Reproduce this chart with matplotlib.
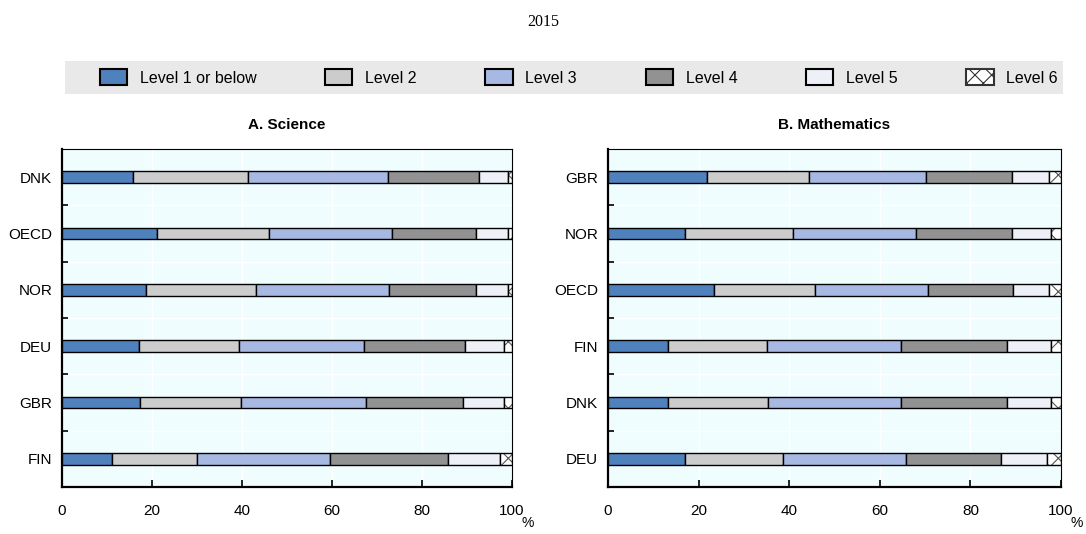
import numpy as np
import matplotlib
matplotlib.use("Agg")
import matplotlib.pyplot as plt
from matplotlib.patches import Rectangle, Patch

plt.rcParams['font.family'] = ['Liberation Sans', 'DejaVu Sans']
plt.rcParams['hatch.linewidth'] = 0.8

levels = ['Level 1 or below', 'Level 2', 'Level 3', 'Level 4', 'Level 5', 'Level 6']
colors = ['#4f81bd', '#cccccc', '#a7b9e3', '#929292', '#eef0f8', '#ffffff']

# shares (%) per level, countries listed top to bottom
sci_countries = ['DNK', 'OECD', 'NOR', 'DEU', 'GBR', 'FIN']
sci_l1 = [15.7, 21.1, 18.7, 17.0, 17.4, 11.1]
sci_l2 = [25.7, 24.8, 24.4, 22.4, 22.4, 19.0]
sci_l3 = [31.1, 27.4, 29.5, 27.8, 27.8, 29.5]
sci_l4 = [20.2, 18.7, 19.4, 22.4, 21.6, 26.1]
sci_l5 = [6.3, 7.0, 7.0, 8.7, 9.1, 11.7]
sci_l6 = [1.0, 1.0, 1.0, 1.7, 1.7, 2.6]

math_countries = ['GBR', 'NOR', 'OECD', 'FIN', 'DNK', 'DEU']
math_l1 = [21.9, 17.0, 23.3, 13.3, 13.3, 17.0]
math_l2 = [22.5, 23.8, 22.4, 21.7, 22.1, 21.7]
math_l3 = [25.8, 27.3, 25.0, 29.6, 29.2, 27.0]
math_l4 = [18.9, 21.0, 18.6, 23.4, 23.4, 21.1]
math_l5 = [8.3, 8.6, 8.1, 9.7, 9.7, 10.2]
math_l6 = [2.6, 2.3, 2.6, 2.3, 2.3, 3.0]

W, H = 1086, 534
fig = plt.figure(figsize=(W / 100, H / 100), dpi=100)


def draw_panel(rect, countries, series, title):
    ax = fig.add_axes(rect)
    ax.set_facecolor('#f0fdff')
    n = len(countries)
    y = np.arange(n)[::-1]
    left = np.zeros(n)
    for i, vals in enumerate(series):
        vals = np.array(vals)
        if i == 5:
            ax.barh(y, vals, left=left, height=0.21, color='white',
                    edgecolor='#555555', hatch='xx', linewidth=0, zorder=3)
            ax.barh(y, vals, left=left, height=0.21, fill=False,
                    edgecolor='black', linewidth=1.0, zorder=4)
        else:
            ax.barh(y, vals, left=left, height=0.21, color=colors[i],
                    edgecolor='black', linewidth=1.0, zorder=3)
        left += vals
    ax.set_xlim(0, 100)
    ax.set_ylim(-0.5, n - 0.5)
    ax.set_yticks(y)
    ax.set_yticklabels(countries, fontsize=11)
    ax.set_yticks(np.arange(n - 1) + 0.5, minor=True)
    ax.set_xticks([0, 20, 40, 60, 80, 100])
    ax.set_xticklabels(['0', '20', '40', '60', '80', '100'], fontsize=11)
    ax.tick_params(axis='y', which='major', length=0, pad=7)
    ax.tick_params(axis='y', which='minor', direction='in', length=4, width=1.2)
    ax.tick_params(axis='x', which='major', direction='in', length=5, width=1.2, pad=12)
    ax.grid(axis='x', color='white', linewidth=1.0, zorder=0)
    ax.grid(axis='y', which='minor', color='white', linewidth=1.0, zorder=0)
    ax.set_axisbelow(True)
    for s in ['left', 'bottom']:
        ax.spines[s].set_linewidth(1.6)
    for s in ['top', 'right']:
        ax.spines[s].set_linewidth(0.8)
    ax.text(0.5, 1.071, title, transform=ax.transAxes, ha='center', va='center',
            fontsize=11, fontweight='bold')
    ax.text(1.035, -0.107, '%', transform=ax.transAxes, ha='center', va='center',
            fontsize=10)
    return ax


ax1 = draw_panel([62 / W, 1 - 487 / H, 450 / W, 338 / H], sci_countries,
                 [sci_l1, sci_l2, sci_l3, sci_l4, sci_l5, sci_l6], 'A. Science')
ax2 = draw_panel([608 / W, 1 - 487 / H, 453 / W, 338 / H], math_countries,
                 [math_l1, math_l2, math_l3, math_l4, math_l5, math_l6], 'B. Mathematics')

fig.text(0.5, 1 - 22 / H, '2015', ha='center', va='center', fontsize=11.5,
         family=['Liberation Serif', 'DejaVu Serif'])

# legend band
fig.patches.append(Rectangle((65 / W, 1 - 94 / H), 998 / W, 33 / H,
                             transform=fig.transFigure, facecolor='#e9e9e9',
                             edgecolor='none', zorder=0))
handles = []
for i, lab in enumerate(levels):
    if i == 5:
        handles.append(Patch(facecolor='white', edgecolor='#333333', hatch='xx',
                             linewidth=1.5, label=lab))
    else:
        handles.append(Patch(facecolor=colors[i], edgecolor='black', linewidth=1.5,
                             label=lab))
fig.legend(handles=handles, ncol=6, loc='center', mode='expand',
           bbox_to_anchor=(100 / W, 1 - 94 / H, 958 / W, 33 / H),
           frameon=False, fontsize=11.5, handlelength=1.7, handleheight=1.1,
           handletextpad=0.8, borderaxespad=0, borderpad=0)

fig.savefig('out.png', dpi=100)
